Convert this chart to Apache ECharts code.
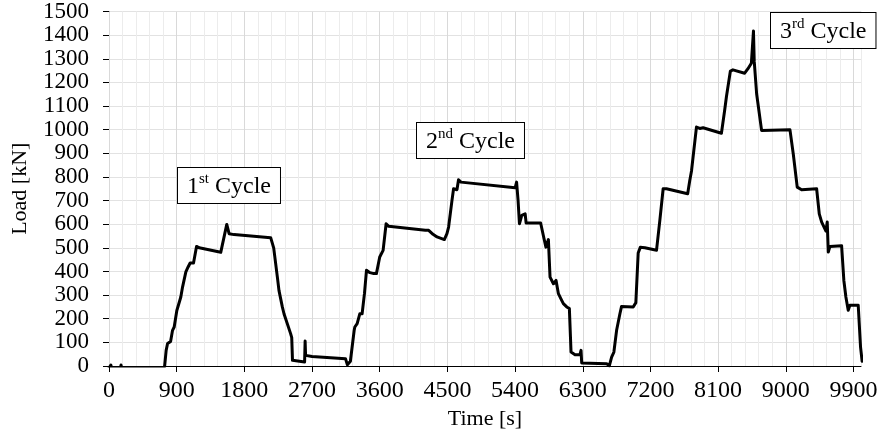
<!DOCTYPE html>
<html>
<head>
<meta charset="utf-8">
<script src="https://cdn.jsdelivr.net/npm/echarts@6/dist/echarts.min.js"></script>
<style>
html,body{margin:0;padding:0;background:#fff;}
#chart{width:881px;height:440px;}
</style>
</head>
<body>
<div id="chart"></div>
<script>
// ---- data ----
const timeS = [0,15,25,35,150,160,170,730,740,760,779,800,819,845,867,902,955,978,1022,1052,1079,1124,1164,1200,1486,1566,1580,1597,1663,2150,2190,2239,2260,2305,2327,2415,2430,2440,2460,2601,2608,2614,2700,3145,3158,3170,3210,3260,3269,3300,3335,3366,3397,3424,3470,3521,3556,3600,3645,3685,3720,3742,4207,4251,4309,4362,4459,4494,4516,4561,4582,4627,4648,4680,5401,5420,5440,5458,5489,5503,5534,5547,5740,5777,5810,5843,5865,5910,5945,5976,6020,6042,6087,6122,6144,6197,6263,6277,6286,6617,6652,6684,6714,6750,6794,6816,6971,7006,7037,7065,7126,7281,7325,7369,7413,7695,7723,7746,7812,7856,7900,8144,8187,8210,8263,8297,8453,8497,8542,8563,8570,8580,8612,8678,9055,9099,9152,9210,9410,9445,9477,9534,9551,9565,9587,9742,9772,9799,9830,9852,9963,9994,10015];
const loadKN = [-10,-10,4,-10,-10,4,-10,-10,0,66,95,102,104,151,165,235,292,334,398,419,436,436,506,500,481,599,600,560,556,543,500,376,320,250,221,137,120,24,18,17,106,45,40,31,34,5,20,150,165,179,221,221,306,405,395,391,391,461,489,602,591,591,574,574,557,546,535,560,588,701,750,746,788,778,754,778,700,602,637,644,644,605,605,550,503,535,376,348,362,306,278,264,250,243,59,48,48,66,13,10,0,38,59,151,221,252,250,268,478,502,500,490,616,750,750,729,785,825,1011,1005,1008,985,1082,1138,1248,1253,1239,1258,1281,1286,1417,1290,1152,997,1000,898,757,746,750,644,609,571,609,482,506,509,362,292,236,257,257,80,20];
const xTicks = [0,900,1800,2700,3600,4500,5400,6300,7200,8100,9000,9900];
const yTicks = [0,100,200,300,400,500,600,700,800,900,1000,1100,1200,1300,1400,1500];
const cycleLabels = [['1','st',' Cycle'],['2','nd',' Cycle'],['3','rd',' Cycle']];

const FONT = 'Liberation Serif';
const seriesData = timeS.map((t, i) => [t, loadKN[i]]);

const rich = {
  n: {fontFamily: FONT, fontSize: 24, color: '#000', lineHeight: 27, verticalAlign: 'bottom'},
  s: {fontFamily: FONT, fontSize: 15, color: '#000', lineHeight: 18, verticalAlign: 'top'}
};
function boxText(lbl, left, top) {
  return {
    type: 'text', left: left, top: top, z: 100,
    style: {
      text: '{n|' + lbl[0] + '}{s|' + lbl[1] + '}{n|' + lbl[2] + '}',
      rich: rich,
      backgroundColor: '#fff', borderColor: '#000', borderWidth: 1,
      padding: [4, 9, 4, 9]
    }
  };
}
const plain = v => String(v);

const chart = echarts.init(document.getElementById('chart'), null, {renderer: 'canvas'});
chart.setOption({
  animation: false,
  backgroundColor: '#fff',
  grid: {left: 109, right: 20, top: 11, bottom: 74, containLabel: false},
  xAxis: [{
    type: 'value', min: 0, max: 10000, interval: 900, position: 'bottom',
    name: 'Time [s]', nameLocation: 'middle', nameGap: 42,
    nameTextStyle: {fontFamily: FONT, fontSize: 22, color: '#000'},
    axisLine: {show: true, onZero: false, lineStyle: {color: '#000', width: 1}},
    axisTick: {show: true, length: 6, customValues: xTicks, lineStyle: {color: '#000'}},
    axisLabel: {customValues: xTicks, formatter: plain, margin: 13, showMinLabel: true, showMaxLabel: true, hideOverlap: false,
      fontFamily: FONT, fontSize: 24, color: '#000'},
    splitLine: {show: true, lineStyle: {color: '#d9d9d9', width: 1}},
    z: 3
  }, {
    type: 'value', min: 0, max: 10000, interval: 180, position: 'bottom',
    axisLine: {show: false}, axisTick: {show: false}, axisLabel: {show: false},
    splitLine: {show: true, lineStyle: {color: '#ececec', width: 1}},
    z: 1
  }],
  yAxis: {
    type: 'value', min: 0, max: 1500, interval: 100,
    name: 'Load [kN]', nameLocation: 'middle', nameGap: 78,
    nameTextStyle: {fontFamily: FONT, fontSize: 22, color: '#000'},
    axisLine: {show: true, lineStyle: {color: '#000', width: 1}},
    axisTick: {show: true, length: 6, customValues: yTicks, lineStyle: {color: '#000'}},
    axisLabel: {customValues: yTicks, formatter: plain, margin: 20, showMinLabel: true, showMaxLabel: true, hideOverlap: false,
      fontFamily: FONT, fontSize: 23, lineHeight: 20, color: '#000'},
    splitLine: {show: true, lineStyle: {color: '#e2e2e2', width: 1}}
  },
  series: [{
    type: 'line', xAxisIndex: 0, yAxisIndex: 0,
    data: seriesData, showSymbol: false, symbol: 'none',
    clip: true,
    lineStyle: {color: '#000', width: 3, join: 'round', cap: 'round'},
    z: 5
  }],
  graphic: [
    boxText(cycleLabels[0], 177, 167),
    boxText(cycleLabels[1], 416, 122),
    boxText(cycleLabels[2], 770, 12)
  ]
});
</script>
</body>
</html>
